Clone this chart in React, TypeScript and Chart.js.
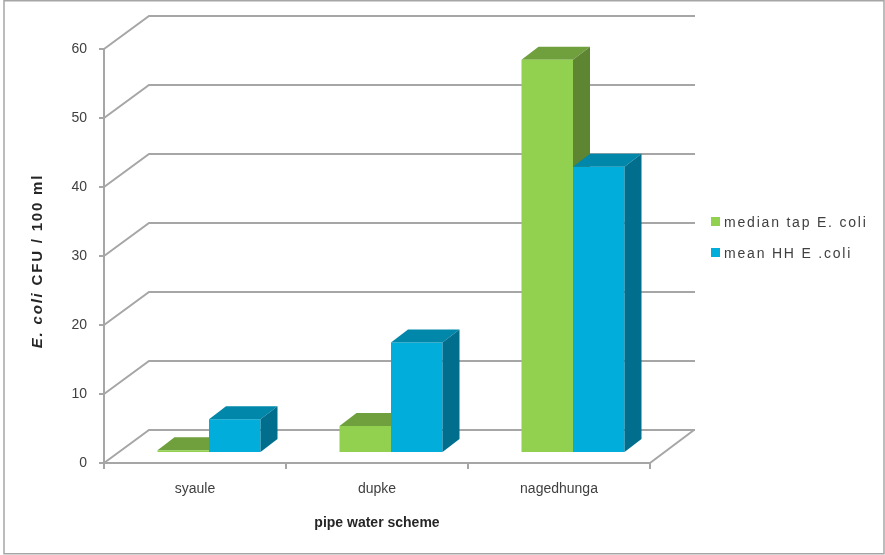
import { useEffect, useRef } from 'react';
import { Chart, registerables } from 'chart.js';

Chart.register(...registerables);

// Data
const categories = ['syaule', 'dupke', 'nagedhunga'];
const medianTap = [0.4, 3.9, 57];
const meanHH = [4.9, 16, 41.5];
const seriesLabels = ['median tap E. coli', 'mean HH E .coli'];
const yTickValues = [0, 10, 20, 30, 40, 50, 60];

// Styling
const FONT = '"Liberation Sans", Arial, sans-serif';
const GRID = '#a6a6a6';
const TEXT = '#404040';
const TITLE = '#262626';

// Oblique projection used for the walls and the bar boxes
const WALL = { dxL: 45, dxR: 44, dy: 33 };
const BAR_SHIFT = { dx: 14, dy: 10 };
const BAR_DEPTH = { dx: 17, dy: 13 };

const faceColors = [
  { front: '#92D050', top: '#6FA03D', side: '#5E8632' },
  { front: '#00ADDB', top: '#0087AA', side: '#006E8C' },
];

function drawBoxFaces(chart: any, datasetIndex: number) {
  const ctx: CanvasRenderingContext2D = chart.ctx;
  const meta = chart.getDatasetMeta(datasetIndex);
  const c = faceColors[datasetIndex];
  meta.data.forEach((el: any) => {
    const { x, y, base, width } = el.getProps(['x', 'y', 'base', 'width'], true);
    const l = x - width / 2;
    const r = x + width / 2;
    ctx.fillStyle = c.top;
    ctx.beginPath();
    ctx.moveTo(l, y);
    ctx.lineTo(r, y);
    ctx.lineTo(r + BAR_DEPTH.dx, y - BAR_DEPTH.dy);
    ctx.lineTo(l + BAR_DEPTH.dx, y - BAR_DEPTH.dy);
    ctx.closePath();
    ctx.fill();
    ctx.fillStyle = c.side;
    ctx.beginPath();
    ctx.moveTo(r, y);
    ctx.lineTo(r + BAR_DEPTH.dx, y - BAR_DEPTH.dy);
    ctx.lineTo(r + BAR_DEPTH.dx, base - BAR_DEPTH.dy);
    ctx.lineTo(r, base);
    ctx.closePath();
    ctx.fill();
  });
}

const depthPlugin = {
  id: 'depth3d',
  beforeDatasetsDraw(chart: any) {
    const { ctx, chartArea: a, scales } = chart;
    const y = scales.y;
    ctx.save();
    ctx.strokeStyle = GRID;
    ctx.lineWidth = 2;
    y.ticks.forEach((t: any) => {
      const py = y.getPixelForValue(t.value);
      ctx.beginPath();
      ctx.moveTo(a.left, py);
      ctx.lineTo(a.left + WALL.dxL, py - WALL.dy);
      ctx.lineTo(a.right + WALL.dxR + 1, py - WALL.dy);
      ctx.stroke();
    });
    const p0 = y.getPixelForValue(0);
    ctx.beginPath();
    ctx.moveTo(a.right, p0);
    ctx.lineTo(a.right + WALL.dxR, p0 - WALL.dy);
    ctx.stroke();
    ctx.restore();
  },
  beforeDatasetDraw(chart: any, args: any) {
    chart.ctx.save();
    chart.ctx.translate(BAR_SHIFT.dx, -BAR_SHIFT.dy);
    // Blue boxes are drawn first; the green boxes' top/side faces go underneath them
    if (args.index === 1) drawBoxFaces(chart, 0);
  },
  afterDatasetDraw(chart: any, args: any) {
    if (args.index === 1) drawBoxFaces(chart, 1);
    chart.ctx.restore();
  },
  afterDraw(chart: any) {
    const ctx: CanvasRenderingContext2D = chart.ctx;
    ctx.save();

    // Y axis title with italic species name
    ctx.translate(38, 261);
    ctx.rotate(-Math.PI / 2);
    ctx.fillStyle = TITLE;
    ctx.textBaseline = 'middle';
    ctx.textAlign = 'left';
    (ctx as any).letterSpacing = '1.8px';
    const parts = [
      { text: 'E. coli', font: `italic bold 15px ${FONT}` },
      { text: ' CFU / 100 ml', font: `bold 15px ${FONT}` },
    ];
    let total = 0;
    parts.forEach((p) => {
      ctx.font = p.font;
      total += ctx.measureText(p.text).width;
    });
    let px = -total / 2;
    parts.forEach((p) => {
      ctx.font = p.font;
      ctx.fillText(p.text, px, 0);
      px += ctx.measureText(p.text).width;
    });
    ctx.restore();

    // Legend
    ctx.save();
    ctx.font = `14px ${FONT}`;
    (ctx as any).letterSpacing = '1.8px';
    ctx.textBaseline = 'alphabetic';
    chart.data.datasets.forEach((ds: any, i: number) => {
      const top = 217 + i * 31;
      ctx.fillStyle = ds.backgroundColor;
      ctx.fillRect(711, top, 9, 9);
      ctx.fillStyle = TEXT;
      ctx.fillText(ds.label, 724, top + 10);
    });
    ctx.restore();

    // Outer frame
    ctx.save();
    ctx.strokeStyle = GRID;
    ctx.lineWidth = 1.5;
    ctx.strokeRect(4, 0.75, 880, 553);
    ctx.restore();
  },
};

export default function App() {
  const ref = useRef<HTMLCanvasElement | null>(null);

  useEffect(() => {
    if (!ref.current) return;
    const chart = new Chart(ref.current, {
      type: 'bar',
      data: {
        labels: categories,
        datasets: [
          {
            label: seriesLabels[0],
            data: medianTap,
            backgroundColor: faceColors[0].front,
            borderWidth: 0,
            clip: false as any,
          },
          {
            label: seriesLabels[1],
            data: meanHH,
            backgroundColor: faceColors[1].front,
            borderWidth: 0,
            clip: false as any,
          },
        ],
      },
      options: {
        animation: false,
        responsive: false,
        maintainAspectRatio: false,
        layout: { padding: { top: 49, right: 235, bottom: 0, left: 0 } },
        datasets: { bar: { categoryPercentage: 0.566, barPercentage: 1 } },
        plugins: {
          legend: { display: false },
          tooltip: { enabled: false },
        },
        scales: {
          x: {
            type: 'category',
            grid: { drawOnChartArea: false, offset: true, tickLength: 6, color: GRID, lineWidth: 2 },
            border: { color: GRID, width: 2 },
            ticks: { color: TEXT, font: { family: FONT, size: 14 }, padding: 12, maxRotation: 0 },
            title: {
              display: true,
              text: 'pipe water scheme',
              color: TITLE,
              font: { family: FONT, size: 14, weight: 'bold' },
              padding: { top: 0, bottom: 23 },
            },
            afterFit: (scale: any) => {
              scale.height = 92;
            },
          },
          y: {
            type: 'linear',
            min: 0,
            max: 60,
            afterBuildTicks: (scale: any) => {
              scale.ticks = yTickValues.map((v) => ({ value: v }));
            },
            grid: { drawOnChartArea: false, tickLength: 5, color: GRID, lineWidth: 2 },
            border: { color: GRID, width: 2 },
            ticks: { color: TEXT, font: { family: FONT, size: 14 }, padding: 12 },
            afterFit: (scale: any) => {
              scale.width = 104;
            },
          },
        },
      },
      plugins: [depthPlugin],
    });
    return () => chart.destroy();
  }, []);

  return (
    <div style={{ position: 'absolute', left: 0, top: 0, width: 885, height: 555, background: '#fff' }}>
      <canvas ref={ref} width={885} height={555} style={{ width: 885, height: 555, display: 'block' }} />
    </div>
  );
}
